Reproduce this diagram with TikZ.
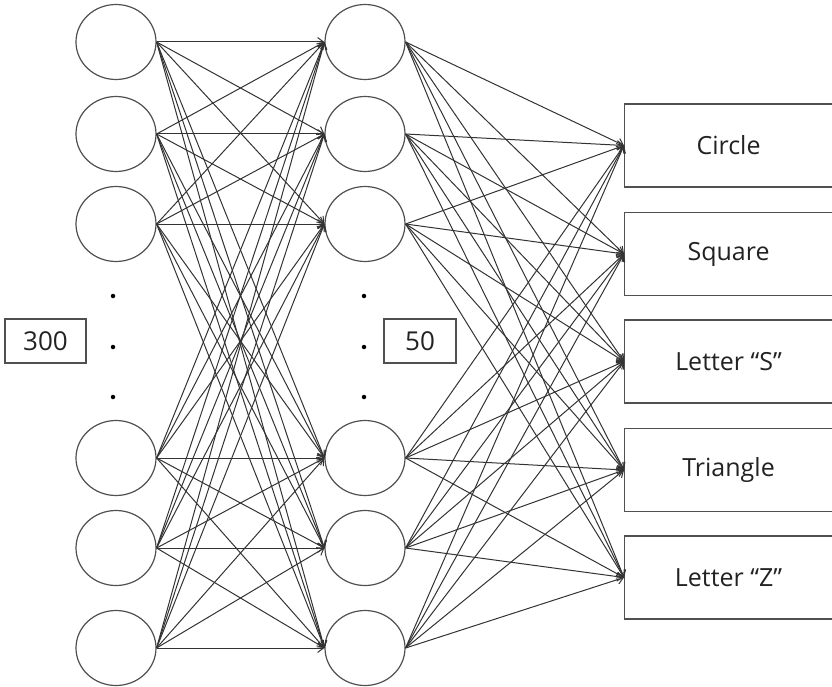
\documentclass[tikz,border=0pt]{standalone}
\usepackage{fontspec}
\setmainfont{Open Sans}
\usetikzlibrary{shapes.geometric,arrows.meta}
\definecolor{edgec}{HTML}{333333}
\definecolor{circc}{HTML}{505050}
\definecolor{txtc}{HTML}{222222}
\begin{document}
\begin{tikzpicture}[x=1pt,y=-1pt,
  neuron/.style={ellipse,draw=circc,line width=1.2pt,minimum width=80pt,minimum height=75pt,inner sep=0pt,fill=white},
  outbox/.style={rectangle,draw=circc,line width=1.1pt,minimum width=212pt,minimum height=83pt,anchor=west,inner sep=0pt,font=\fontsize{25}{28}\selectfont,text=txtc},
  countbox/.style={rectangle,draw=circc,line width=1.1pt,inner sep=0pt,font=\fontsize{26}{28}\selectfont,text=txtc},
  conn/.style={draw=edgec,line width=1pt,-{Straight Barb[length=6pt,width=9pt]}},
  dotmark/.style={circle,fill=black,inner sep=0pt,minimum size=4.5pt}]
\useasboundingbox (0,0) rectangle (832,687);
% neurons
\foreach \i/\y in {1/42,2/134,3/224,4/458,5/548,6/648} {
  \node[neuron] (a\i) at (116,\y) {};
  \node[neuron] (b\i) at (365,\y) {};
}
% output boxes
\node[outbox] (o1) at (624,145.5) {\hspace*{-4pt}Circle};
\node[outbox] (o2) at (624,254) {\hspace*{-4pt}Square};
\node[outbox] (o3) at (624,361.5) {\hspace*{-4pt}Letter “S”};
\node[outbox] (o4) at (624,470) {\hspace*{-4pt}Triangle};
\node[outbox] (o5) at (624,577.5) {\hspace*{-4pt}Letter “Z”};
% count boxes
\node[countbox,minimum width=81pt,minimum height=44pt] (n300) at (45.5,341) {300};
\node[countbox,minimum width=72pt,minimum height=44pt] (n50) at (420,341) {50};
% dots
\foreach \k/\y in {1/296,2/347,3/397} {
  \node[dotmark] (da\k) at (113,\y) {};
  \node[dotmark] (db\k) at (364,\y) {};
}
% connections layer 1 -> layer 2
\foreach \i in {1,...,6} {
  \foreach \j in {1,...,6} {
    \draw[conn] (a\i.east) -- (b\j.west);
  }
}
% connections layer 2 -> outputs
\foreach \i in {1,...,6} {
  \foreach \j in {1,...,5} {
    \draw[conn] (b\i.east) -- (o\j.west);
  }
}
\end{tikzpicture}
\end{document}
